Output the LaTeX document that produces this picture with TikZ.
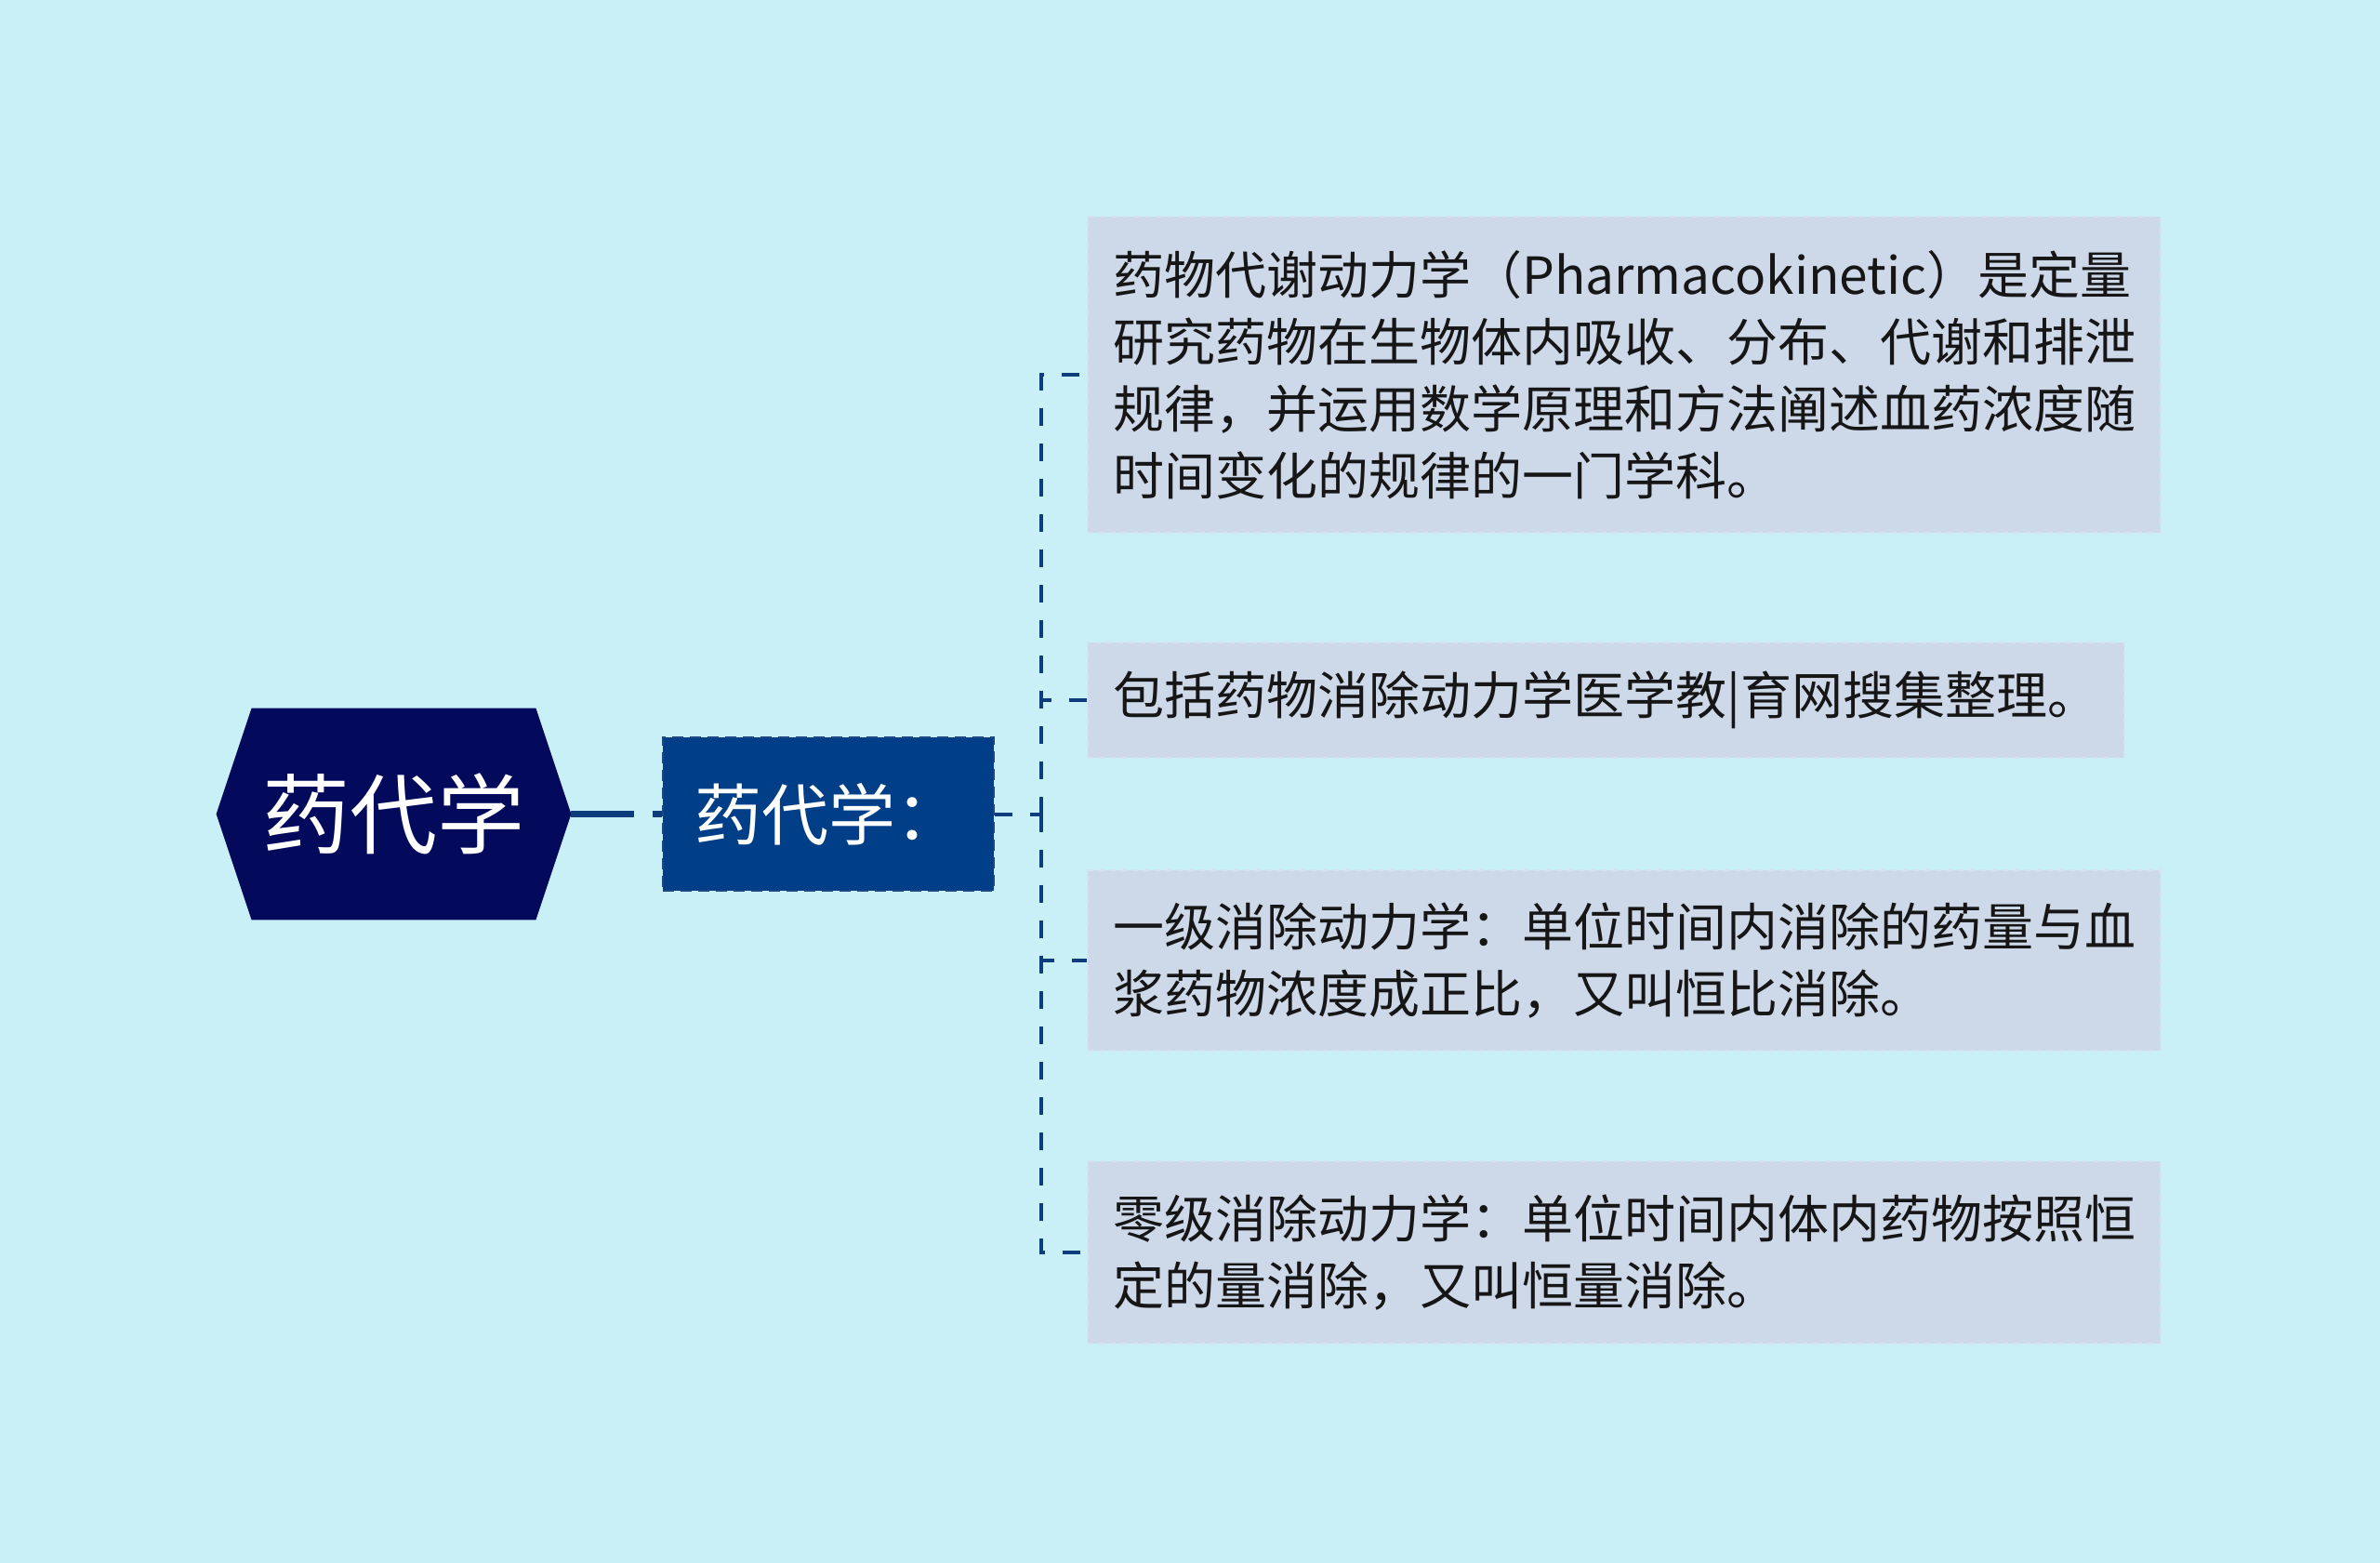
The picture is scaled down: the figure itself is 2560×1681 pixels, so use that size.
\documentclass[tikz,border=0pt]{standalone}
\usepackage{fontspec}
\setmainfont{Noto Sans CJK SC}
\usetikzlibrary{positioning}
\definecolor{bgc}{HTML}{C9EFF7}
\definecolor{rootc}{HTML}{030A5C}
\definecolor{subc}{HTML}{003E87}
\definecolor{subb}{HTML}{1C4783}
\definecolor{leafc}{HTML}{CDD8E8}
\definecolor{leafb}{HTML}{D8E1EE}
\definecolor{linec}{HTML}{0F3C7C}
\definecolor{txtc}{HTML}{161616}
\pgfdeclarelayer{back}
\pgfdeclarelayer{mid}
\pgfsetlayers{back,mid,main}
\tikzset{
  leaf/.style={anchor=west, fill=leafc, draw=leafb, dashed, line width=1.2pt,
    inner xsep=13.5pt, inner ysep=0pt, text width=550pt, align=left,
    minimum width=577pt, font=\fontsize{27.5pt}{36pt}\selectfont, text=txtc},
  conn/.style={draw=linec, line width=2pt, dash pattern=on 9.5pt off 9.5pt},
}
\begin{document}
\begin{tikzpicture}[x=0.5pt,y=-0.5pt]
\begin{pgfonlayer}{back}
\fill[bgc] (0,0) rectangle (2560,1681);
\end{pgfonlayer}
\useasboundingbox (0,0) rectangle (2560,1681);
% root hexagon
\node[minimum width=190.5pt, minimum height=113.5pt, inner sep=0pt, text=white,
  font=\fontsize{47pt}{50pt}\selectfont] (root) at (423.5,875.5) {药代学};
\begin{pgfonlayer}{mid}
\fill[rootc] (root.west) -- ([xshift=19pt]root.north west) -- ([xshift=-19pt]root.north east)
  -- (root.east) -- ([xshift=-19pt]root.south east) -- ([xshift=19pt]root.south west) -- cycle;
\end{pgfonlayer}
% sub node
\node[fill=subc, draw=subb, line width=1.2pt, dash pattern=on 6pt off 3.5pt,
  minimum width=178pt, minimum height=82.5pt,
  inner sep=0pt, text=white, font=\fontsize{36pt}{40pt}\selectfont] (sub) at (891,875.5) {药代学：};
% leaves
\node[leaf, minimum height=170pt] (b1) at (1169,403)
  {药物代谢动力学（Pharmacokinetic）是定量\\研究药物在生物体内吸收、分布、代谢和排泄\\规律，并运用数学原理和方法阐述血药浓度随\\时间变化的规律的一门学科。};
\node[leaf, minimum height=62pt, minimum width=557.5pt, text width=530.5pt] (b2) at (1169,753)
  {包括药物消除动力学医学教|育网搜集整理。};
\node[leaf, minimum height=97pt] (b3) at (1169,1033)
  {一级消除动力学：单位时间内消除的药量与血\\浆药物浓度成正比，又叫恒比消除。};
\node[leaf, minimum height=98pt] (b4) at (1169,1347)
  {零级消除动力学：单位时间内体内药物按照恒\\定的量消除，又叫恒量消除。};
% connectors
\coordinate (trunk) at (1120,875.5);
\draw[draw=linec, line width=3.5pt, dash pattern=on 34pt off 10pt on 6pt off 20pt] (root.east) -- (sub.west);
\draw[conn] (sub.east) -- (trunk);
\draw[conn] (trunk) |- (b1.west);
\draw[conn] (trunk) |- (b2.west);
\draw[conn] (trunk) |- (b3.west);
\draw[conn] (trunk) |- (b4.west);
\end{tikzpicture}
\end{document}
